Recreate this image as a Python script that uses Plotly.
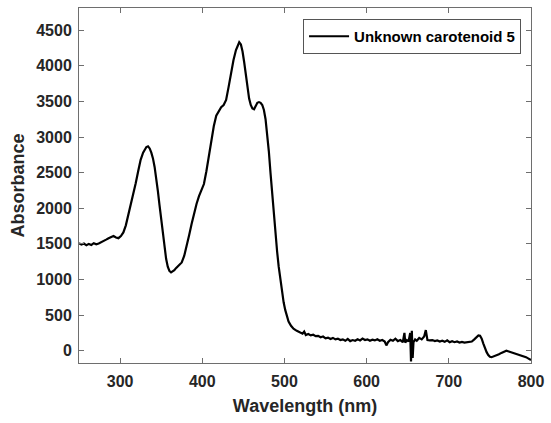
import plotly.graph_objects as go

wavelength = [250, 253, 256, 259, 262, 265, 268, 271, 274, 277, 280, 283, 286, 289, 292, 295, 298, 301, 304, 307,
              310, 313, 316, 319, 322, 325, 328, 330, 332, 334, 336, 338, 340, 342, 344, 346, 348, 350, 352, 354,
              356, 358, 360, 362, 364, 366, 368, 370, 372, 375, 378, 381, 384, 387, 390, 393, 396, 399, 402, 405,
              408, 411, 414, 417, 420, 423, 426, 429, 432, 435, 438, 441, 443, 445, 447, 449, 451, 453, 455, 457,
              459, 461, 463, 465, 467, 469, 471, 473, 475, 477, 479, 481, 483, 485, 487, 489, 491, 493, 495, 497,
              499, 501, 503, 505, 508, 511, 515, 518, 520, 522, 524, 526, 529, 532, 535, 538, 541, 544, 547, 550,
              553, 556, 559, 562, 565, 568, 571, 574, 577, 580, 583, 586, 589, 592, 595, 598, 601, 604, 607, 610,
              613, 616, 619, 622, 624, 626, 629, 632, 635, 638, 641, 644, 646, 647, 649, 651, 653, 654, 655, 656,
              657, 659, 661, 664, 667, 670, 672, 674, 677, 680, 683, 686, 689, 692, 695, 698, 701, 704, 707, 710,
              713, 716, 719, 722, 725, 728, 731, 734, 736, 738, 740, 742, 744, 746, 748, 750, 752, 755, 758, 761,
              764, 767, 770, 773, 776, 779, 782, 785, 788, 791, 794, 797, 800]

absorbance = [1510, 1490, 1505, 1480, 1500, 1485, 1510, 1495, 1505, 1520, 1540, 1560, 1580, 1600, 1610, 1590, 1580, 1610, 1660, 1760,
              1900, 2050, 2200, 2350, 2520, 2680, 2780, 2820, 2860, 2870, 2840, 2780, 2700, 2580, 2430, 2240, 2040, 1830, 1620, 1440,
              1290, 1180, 1120, 1100, 1110, 1130, 1160, 1180, 1200, 1240, 1330, 1460, 1620, 1780, 1930, 2060, 2170, 2260, 2340, 2520,
              2740, 2960, 3150, 3300, 3370, 3420, 3450, 3520, 3700, 3900, 4080, 4220, 4280, 4330, 4300, 4200, 4050, 3850, 3680, 3540,
              3450, 3400, 3390, 3440, 3480, 3490, 3480, 3450, 3380, 3250, 3050, 2800, 2500, 2200, 1900, 1650, 1400, 1180, 990, 820,
              680, 570, 480, 410, 350, 310, 280, 265, 255, 240, 270, 220, 235, 215, 225, 205, 210, 190, 200, 175,
              185, 165, 180, 160, 170, 150, 160, 140, 165, 135, 150, 140, 160, 145, 170, 150, 160, 140, 155, 145,
              160, 140, 150, 130, 75, 120, 155, 140, 170, 135, 150, 120, 250, 115, 150, 130, 250, -150, 280, -100,
              120, 160, 140, 180, 160, 200, 290, 150, 145, 150, 135, 145, 130, 140, 125, 145, 120, 135, 120, 130,
              115, 125, 115, 120, 115, 130, 160, 200, 215, 210, 170, 100, 30, -20, -60, -85, -90, -80, -60, -50,
              -30, -10, 0, -10, -20, -35, -50, -55, -70, -75, -90, -110, -130]

series_name = "Unknown carotenoid 5"
x_ticks = [300, 400, 500, 600, 700, 800]
y_ticks = [0, 500, 1000, 1500, 2000, 2500, 3000, 3500, 4000, 4500]

font_family = "Liberation Sans, Arial, sans-serif"
text_color = "#262626"
axis_color = "#6e6e6e"

fig = go.Figure()
fig.add_trace(go.Scatter(x=wavelength, y=absorbance, mode="lines", name=series_name,
                         line=dict(color="black", width=2.2)))

fig.update_layout(
    width=551, height=423,
    margin=dict(l=79, r=14, t=7, b=60),
    paper_bgcolor="white", plot_bgcolor="white",
    showlegend=True,
    legend=dict(x=0.978, y=0.969, xanchor="right", yanchor="top",
                bgcolor="white", bordercolor="#555555", borderwidth=1,
                font=dict(family=font_family, size=15, color="black", weight="bold"),
                itemwidth=40, tracegroupgap=0),
    font=dict(family=font_family, color=text_color),
)
fig.update_xaxes(range=[250, 800], tickvals=x_ticks, ticks="inside", ticklen=5,
                 tickcolor=axis_color, showline=True, linecolor=axis_color, linewidth=1,
                 mirror="ticks", showgrid=False, zeroline=False, ticklabelstandoff=4,
                 tickfont=dict(family=font_family, size=16, color=text_color, weight="bold"),
                 title=dict(text="Wavelength (nm)", standoff=10,
                            font=dict(family=font_family, size=18, color=text_color, weight="bold")))
fig.update_yaxes(range=[-172, 4811], tickvals=y_ticks, ticks="inside", ticklen=5,
                 tickcolor=axis_color, showline=True, linecolor=axis_color, linewidth=1,
                 mirror="ticks", showgrid=False, zeroline=False, ticklabelstandoff=3,
                 tickfont=dict(family=font_family, size=16, color=text_color, weight="bold"),
                 title=dict(text="Absorbance", standoff=6,
                            font=dict(family=font_family, size=18, color=text_color, weight="bold")))

fig.write_html("out.html")
